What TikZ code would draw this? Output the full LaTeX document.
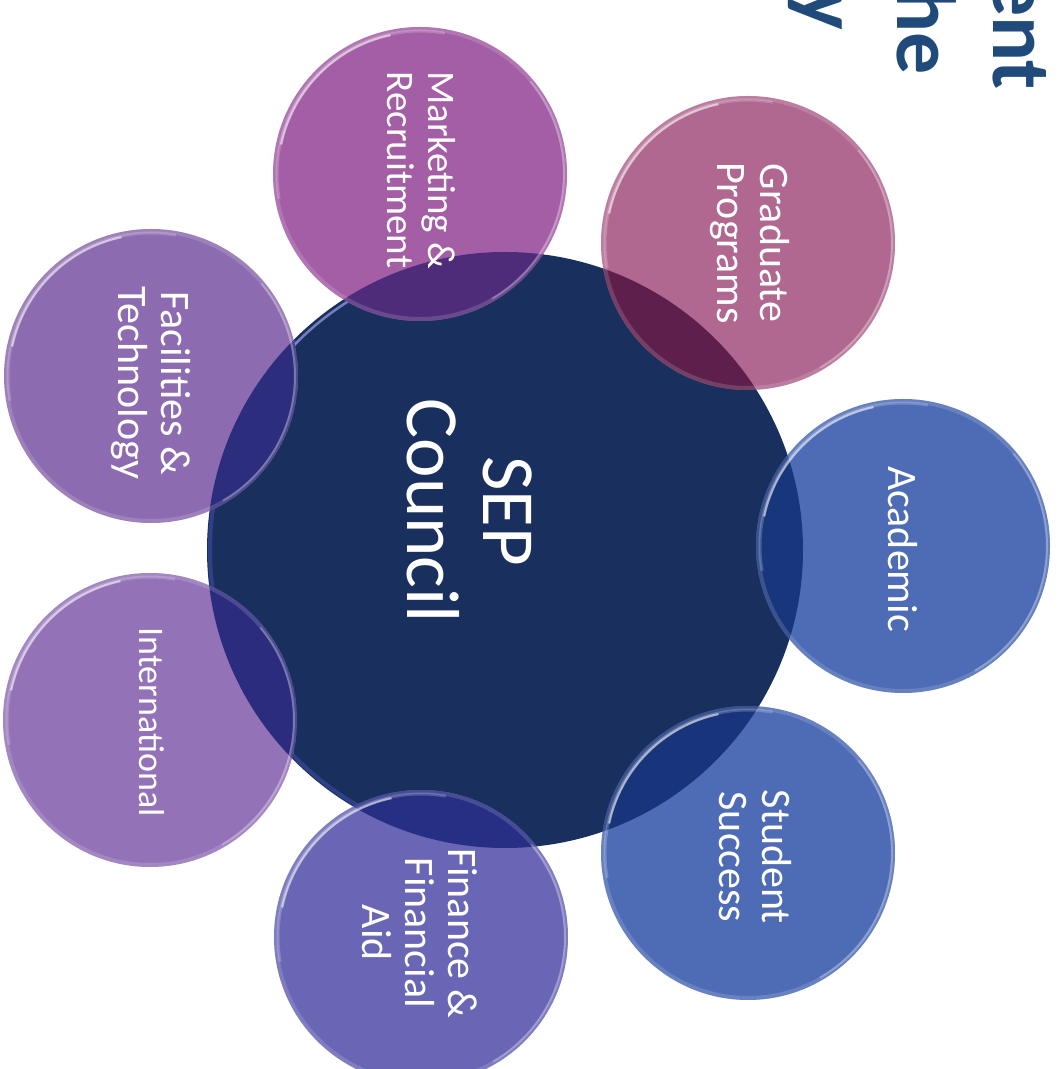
\documentclass[tikz,border=0pt]{standalone}
\usepackage{fontspec}
\setmainfont{Carlito}
\definecolor{hubcol}{HTML}{19305F}
\definecolor{acadcol}{HTML}{4D6CB5}\definecolor{acadov}{HTML}{18367C}
\definecolor{studcol}{HTML}{4E6BB6}\definecolor{studov}{HTML}{18357C}
\definecolor{fincol}{HTML}{6A66B6}\definecolor{finov}{HTML}{262F84}
\definecolor{intlcol}{HTML}{9472B8}\definecolor{intlov}{HTML}{2C2C7E}
\definecolor{faccol}{HTML}{8D6BB0}\definecolor{facov}{HTML}{2D2D7D}
\definecolor{mktcol}{HTML}{A45EA6}\definecolor{mktov}{HTML}{4F2C7A}
\definecolor{gradcol}{HTML}{B06890}\definecolor{gradov}{HTML}{5E1F4C}
\definecolor{titlecol}{HTML}{1F4A7A}
\newcommand\myrims{%
  \draw[white,opacity=.15,line width=4pt] (path picture bounding box.center) circle[radius=145pt];
  \draw[white,opacity=.2,line width=3pt] (path picture bounding box.center) ++(80:143pt) arc[start angle=80,end angle=190,radius=143pt];
  \draw[white,opacity=.55,line width=2.2pt] (path picture bounding box.center) ++(102:142pt) arc[start angle=102,end angle=168,radius=142pt];
  \draw[white,opacity=.25,line width=2pt] (path picture bounding box.center) ++(-60:144pt) arc[start angle=-60,end angle=40,radius=144pt];}
\begin{document}
\begin{tikzpicture}[x=1pt,y=1pt,
  bubble/.style={circle, inner sep=0pt, minimum size=294pt, draw=none},
  lbl/.style={text=white, align=center, rotate=-90, inner sep=0pt, font=\fontsize{42}{43}\selectfont},
  ttl/.style={text=titlecol, rotate=-90, inner sep=0pt, anchor=base east, font=\fontsize{84}{96}\selectfont\bfseries}]
\useasboundingbox (0,0) rectangle (1063,1069);
\clip (0,0) rectangle (1063,1069);
\fill[white] (0,0) rectangle (1063,1069);
\coordinate (hubc) at (505,519);
% hub
\node[circle, inner sep=0pt, minimum size=596pt, fill=hubcol,
  path picture={
    \draw[color=blue!55!white,opacity=.25,line width=4pt] (path picture bounding box.center) ++(135:295pt) arc[start angle=135,end angle=240,radius=295pt];
    \draw[color=blue!30!white,opacity=.6,line width=2.5pt] (path picture bounding box.center) ++(112:294pt) arc[start angle=112,end angle=148,radius=294pt];
  }] (hub) at (hubc) {};
% outer circles
\node[bubble, fill=acadcol, path picture={\fill[acadov] (hubc) circle[radius=298pt]; \myrims}] (acad) at (903,523) {};
\node[bubble, fill=studcol, path picture={\fill[studov] (hubc) circle[radius=298pt]; \myrims}] (stud) at (748,216) {};
\node[bubble, fill=fincol, path picture={\fill[finov] (hubc) circle[radius=298pt]; \myrims}] (fin) at (421,132) {};
\node[bubble, fill=intlcol, path picture={\fill[intlov] (hubc) circle[radius=298pt]; \myrims}] (intl) at (150,349) {};
\node[bubble, fill=faccol, path picture={\fill[facov] (hubc) circle[radius=298pt]; \myrims}] (fac) at (151,693) {};
\node[bubble, fill=mktcol, path picture={\fill[mktov] (hubc) circle[radius=298pt]; \myrims}] (mkt) at (420,895) {};
\node[bubble, fill=gradcol, path picture={\fill[gradov] (hubc) circle[radius=298pt]; \myrims}] (grad) at (748,826) {};
% labels
\node[lbl, font=\fontsize{75}{76}\selectfont] (hubt) at (470,558) {SEP\\Council};
\node[lbl] (acadt) at (903,520) {Academic};
\node[lbl] (studt) at (755,212) {Student\\Success};
\node[lbl] (fint) at (420,136) {Finance \&\\Financial\\Aid};
\node[lbl, font=\fontsize{36}{38}\selectfont] (intlt) at (152,347) {International};
\node[lbl] (fact) at (151,686) {Facilities \&\\Technology};
\node[lbl, font=\fontsize{39}{41}\selectfont] (mktt) at (421,899) {Marketing \&\\Recruitment};
\node[lbl] (gradt) at (750,826) {Graduate\\Programs};
% title fragments
\node[ttl] (t1) at (993,979) {ent};
\node[ttl] (t2) at (897,994) {he};
\node[ttl] (t3) at (801,1039) {y};
\end{tikzpicture}
\end{document}
